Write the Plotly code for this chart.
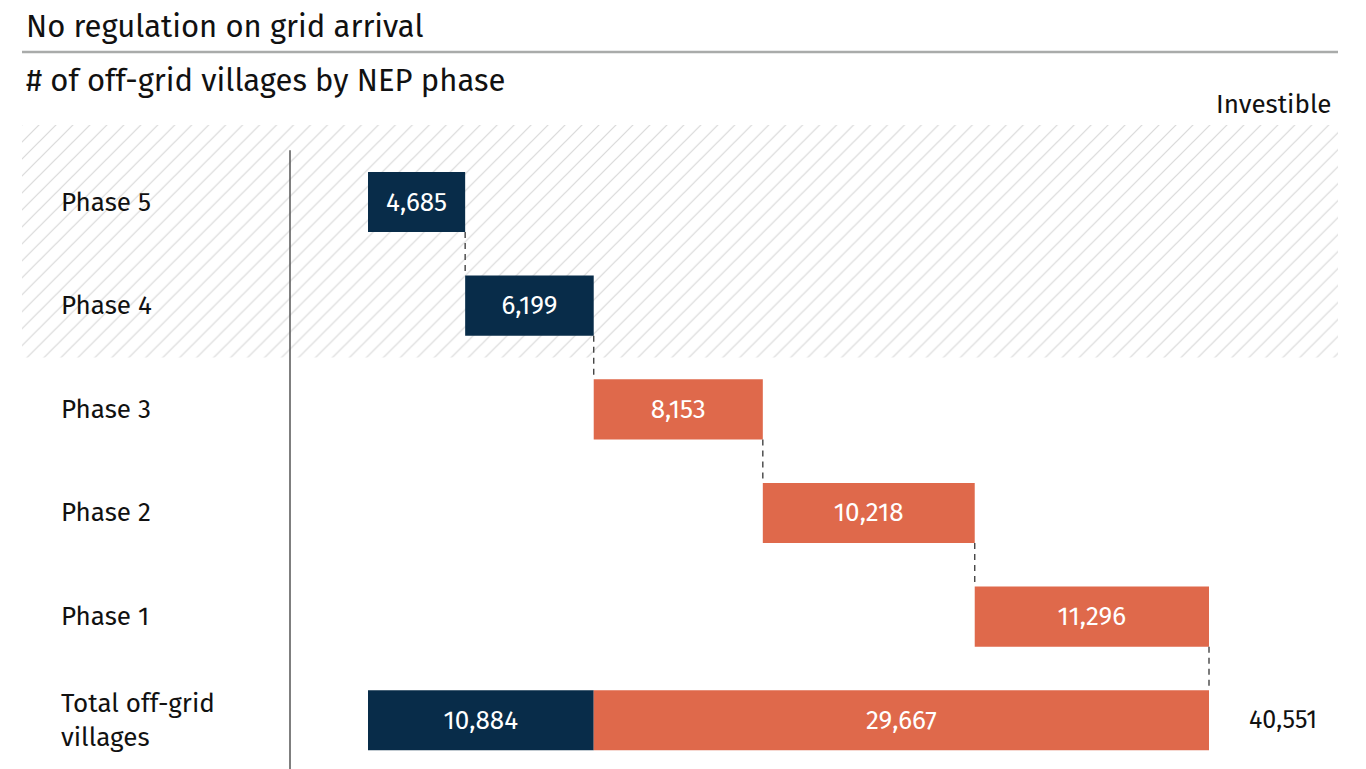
import plotly.graph_objects as go

# ---- data ----
phases = ["Phase 5", "Phase 4", "Phase 3", "Phase 2", "Phase 1"]
phase_values = [4685, 6199, 8153, 10218, 11296]
phase_groups = ["non", "non", "inv", "inv", "inv"]
total_label = "Total off-grid<br>villages"
total_non_investible = 10884
total_investible = 29667
total_all = 40551

NAVY = "#082c49"
ORANGE = "#df694b"
FONT = "Fira Sans, Noto Sans, Open Sans, sans-serif"
colors = {"non": NAVY, "inv": ORANGE}

# waterfall starts
starts = []
acc = 0
for v in phase_values:
    starts.append(acc)
    acc += v
ends = [s + v for s, v in zip(starts, phase_values)]

n = len(phases)
total_idx = n
BW = 0.58

X_MIN, X_MAX = -16683, 46771
Y_TOP, Y_BOT = -0.743, 5.47
HATCH_BOTTOM = 1.5

fig = go.Figure()

# hatched "investible" zone (phase 5 & 4 rows) drawn as a background bar
fig.add_trace(go.Bar(
    orientation="h",
    y=[(Y_TOP + HATCH_BOTTOM) / 2], x=[X_MAX - X_MIN], base=[X_MIN],
    width=HATCH_BOTTOM - Y_TOP,
    marker=dict(color="white", line=dict(width=0),
                pattern=dict(shape="/", fgcolor="#d9d9d9", bgcolor="white",
                             size=12, solidity=0.1, fillmode="replace")),
    hoverinfo="skip", showlegend=False,
))

# phase bars
fig.add_trace(go.Bar(
    orientation="h",
    y=list(range(n)), x=phase_values, base=starts,
    width=BW,
    marker=dict(color=[colors[g] for g in phase_groups], line=dict(width=0)),
    text=[f"{v:,}" for v in phase_values],
    textposition="inside", insidetextanchor="middle",
    textfont=dict(color="white", size=26, family=FONT),
    showlegend=False, hoverinfo="skip",
))

# total bars
fig.add_trace(go.Bar(
    orientation="h",
    y=[total_idx, total_idx],
    x=[total_non_investible, total_investible],
    base=[0, total_non_investible],
    width=BW,
    marker=dict(color=[NAVY, ORANGE], line=dict(width=0)),
    text=[f"{total_non_investible:,}", f"{total_investible:,}"],
    textposition="inside", insidetextanchor="middle",
    textfont=dict(color="white", size=26, family=FONT),
    showlegend=False, hoverinfo="skip",
))

# connectors
for i in range(n):
    fig.add_trace(go.Scatter(
        x=[ends[i], ends[i]], y=[i + BW / 2, i + 1 - BW / 2],
        mode="lines", line=dict(color="#444444", width=1.4, dash="6px,5px"),
        showlegend=False, hoverinfo="skip",
    ))

# total value label
fig.add_annotation(x=total_all, y=total_idx, xref="x", yref="y",
                   text=f"{total_all:,}", showarrow=False, xanchor="left",
                   xshift=38, font=dict(size=25, color="#111111", family=FONT))

# category labels
for i, p in enumerate(phases + [total_label]):
    fig.add_annotation(x=(59 - 22) / 1316, y=i, xref="paper", yref="y", text=p,
                       showarrow=False, xanchor="left", align="left",
                       font=dict(size=26, color="#111111", family=FONT))

# titles
fig.add_annotation(x=(24 - 22) / 1316, y=(769 - 26) / 644, xref="paper", yref="paper",
                   text="No regulation on grid arrival", showarrow=False,
                   xanchor="left", yanchor="middle",
                   font=dict(size=31, color="#111111", family=FONT))
fig.add_annotation(x=(24 - 22) / 1316, y=(769 - 80) / 644, xref="paper", yref="paper",
                   text="# of off-grid villages by NEP phase", showarrow=False,
                   xanchor="left", yanchor="middle",
                   font=dict(size=31, color="#111111", family=FONT))
fig.add_annotation(x=(1334 - 22) / 1316, y=(769 - 104) / 644, xref="paper", yref="paper",
                   text="Investible", showarrow=False,
                   xanchor="right", yanchor="middle",
                   font=dict(size=26, color="#111111", family=FONT))

# title rule
fig.add_shape(type="line", xref="paper", yref="paper",
              x0=0, x1=1, y0=(769 - 52) / 644, y1=(769 - 52) / 644,
              line=dict(color="#a9abaa", width=2.5))
# vertical axis line
fig.add_shape(type="line", xref="paper", yref="y",
              x0=(290 - 22) / 1316, x1=(290 - 22) / 1316, y0=-0.5, y1=Y_BOT,
              line=dict(color="#555555", width=1.5))

# page body has an 8px margin: figure offset compensates
fig.update_layout(
    width=1358, height=761,
    margin=dict(l=14, r=28, t=117, b=0),
    paper_bgcolor="white", plot_bgcolor="rgba(0,0,0,0)",
    barmode="overlay",
    font=dict(family=FONT),
    xaxis=dict(range=[X_MIN, X_MAX], visible=False, fixedrange=True),
    yaxis=dict(range=[Y_BOT, Y_TOP], visible=False, fixedrange=True),
    showlegend=False,
)

fig.write_html("out.html")
